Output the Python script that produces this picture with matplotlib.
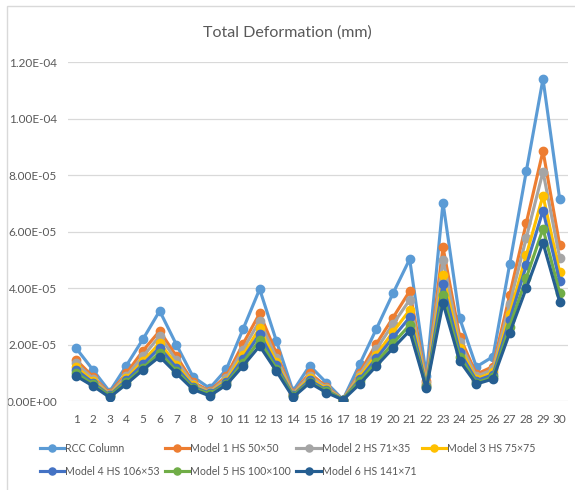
import matplotlib
matplotlib.use("Agg")
import matplotlib.pyplot as plt
from matplotlib.patches import Rectangle

plt.rcParams['font.family'] = ['Lato', 'DejaVu Sans']

categories = list(range(1, 31))
series_names = ["RCC Column", "Model 1 HS 50×50", "Model 2 HS 71×35", "Model 3 HS 75×75",
                "Model 4 HS 106×53", "Model 5 HS 100×100", "Model 6 HS 141×71"]
colors = ["#5B9BD5", "#ED7D31", "#A5A5A5", "#FFC000", "#4472C4", "#70AD47", "#255E91"]

rcc = [1.86, 1.10, 0.33, 1.25, 2.19, 3.19, 2.00, 0.86, 0.45, 1.12, 2.54, 3.96, 2.13, 0.35, 1.25,
       0.65, 0.05, 1.30, 2.55, 3.81, 5.02, 0.90, 7.02, 2.93, 1.21, 1.57, 4.84, 8.14, 11.40, 7.15]
m1 = [1.45, 0.86, 0.27, 0.98, 1.78, 2.48, 1.59, 0.67, 0.35, 0.88, 2.02, 3.10, 1.69, 0.27, 0.99,
      0.51, 0.05, 1.00, 2.02, 2.95, 3.89, 0.70, 5.44, 2.28, 0.95, 1.22, 3.75, 6.31, 8.85, 5.52]
m2 = [1.33, 0.79, 0.24, 0.89, 1.58, 2.30, 1.44, 0.61, 0.32, 0.80, 1.82, 2.84, 1.53, 0.25, 0.90,
      0.47, 0.05, 0.93, 1.83, 2.72, 3.58, 0.64, 5.00, 2.08, 0.87, 1.12, 3.43, 5.78, 8.12, 5.07]
m3 = [1.20, 0.71, 0.22, 0.80, 1.41, 2.05, 1.29, 0.55, 0.29, 0.72, 1.63, 2.58, 1.37, 0.22, 0.81,
      0.42, 0.05, 0.84, 1.64, 2.44, 3.22, 0.58, 4.46, 1.88, 0.78, 1.01, 3.08, 5.17, 7.27, 4.55]
m4 = [1.10, 0.65, 0.20, 0.74, 1.30, 1.89, 1.18, 0.51, 0.27, 0.66, 1.50, 2.37, 1.26, 0.20, 0.74,
      0.38, 0.05, 0.77, 1.51, 2.25, 2.96, 0.53, 4.14, 1.73, 0.72, 0.93, 2.87, 4.80, 6.74, 4.25]
m5 = [0.99, 0.59, 0.18, 0.67, 1.17, 1.71, 1.07, 0.46, 0.24, 0.60, 1.36, 2.16, 1.14, 0.18, 0.67,
      0.35, 0.05, 0.70, 1.37, 2.04, 2.69, 0.48, 3.75, 1.57, 0.65, 0.84, 2.63, 4.36, 6.10, 3.83]
m6 = [0.88, 0.53, 0.13, 0.60, 1.10, 1.57, 0.98, 0.41, 0.18, 0.57, 1.24, 1.95, 1.06, 0.13, 0.64,
      0.30, 0.04, 0.60, 1.24, 1.87, 2.49, 0.45, 3.47, 1.42, 0.60, 0.78, 2.41, 4.00, 5.60, 3.51]
scale = 1e-5
all_series = [rcc, m1, m2, m3, m4, m5, m6]

yticks = [0, 2e-5, 4e-5, 6e-5, 8e-5, 1e-4, 1.2e-4]
ytick_labels = ["0.00E+00", "2.00E-05", "4.00E-05", "6.00E-05", "8.00E-05", "1.00E-04", "1.20E-04"]

W, H = 575, 490
fig = plt.figure(figsize=(W / 100, H / 100), dpi=100)
fig.patch.set_facecolor("white")

# chart border (only left/top visible in the crop)
fig.patches.append(Rectangle((7 / W, -0.1), 1.2, 1 - 6 / H + 0.1, transform=fig.transFigure,
                             fill=False, edgecolor="#D9D9D9", linewidth=1.0))

ax = fig.add_axes([68 / W, 1 - 401 / H, 500 / W, 339 / H])
handles = []
for vals, name, c in zip(all_series, series_names, colors):
    h, = ax.plot(categories, [v * scale for v in vals], color=c, linewidth=2.25, marker="o",
                 markersize=6, label=name, zorder=3)
    handles.append(h)

ax.set_xlim(0.5, 30.5)
ax.set_ylim(0, 1.2e-4)
ax.set_yticks(yticks)
ax.set_yticklabels(ytick_labels)
ax.set_xticks(categories)
ax.set_xticklabels([str(c) for c in categories])
ax.grid(axis="y", color="#D9D9D9", linewidth=0.9, zorder=0)
for s in ax.spines.values():
    s.set_visible(False)
ax.tick_params(length=0, colors="#595959", labelsize=8.5)
ax.tick_params(axis="y", pad=8)
ax.tick_params(axis="x", pad=9)

fig.text(287 / W, 1 - 33 / H, "Total Deformation (mm)", ha="center", va="center",
         fontsize=11.5, color="#595959")

# row-major ordering for a 4-column legend (matplotlib fills column-major)
order = [0, 4, 1, 5, 2, 6, 3]
leg = fig.legend([handles[i] for i in order], [series_names[i] for i in order],
                 loc="upper left", bbox_to_anchor=(40 / W, 1 - 443 / H), ncol=4, frameon=False,
                 fontsize=7.6, handlelength=2.3, handletextpad=0.1, columnspacing=0.5,
                 labelspacing=1.1, markerscale=0.85, borderaxespad=0, borderpad=0)
for t in leg.get_texts():
    t.set_color("#595959")

fig.savefig("out.png", dpi=100)
